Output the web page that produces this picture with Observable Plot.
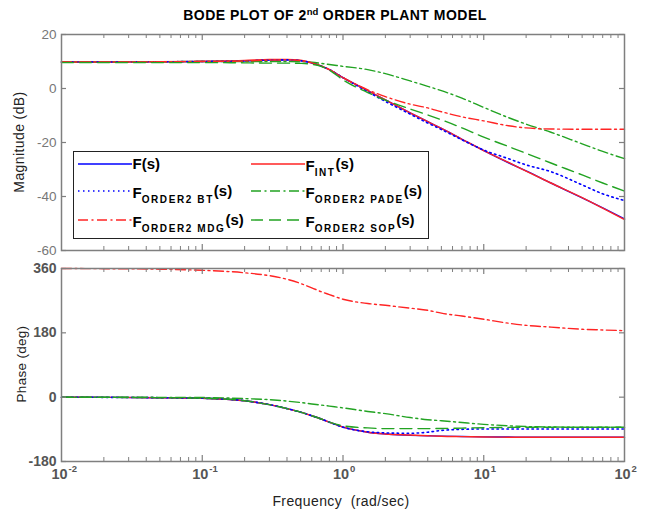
<!DOCTYPE html>
<html><head><meta charset="utf-8">
<script src="https://cdn.jsdelivr.net/npm/d3@7"></script>
<script src="https://cdn.jsdelivr.net/npm/@observablehq/plot@0.6"></script>
<style>
body{margin:0;background:#fff;font-family:"Liberation Sans",Arial,Helvetica,sans-serif;}
#fig{position:relative;width:647px;height:514px;overflow:hidden;background:#fff;}
#title{position:absolute;left:0;width:670px;top:7px;text-align:center;font-weight:bold;font-size:14px;letter-spacing:0.5px;color:#000;white-space:nowrap;}
#title sup{font-size:9.5px;vertical-align:5px;line-height:0;letter-spacing:0;}
#mag{position:absolute;left:0;top:24px;}
#ph{position:absolute;left:0;top:258px;}
.ylab{position:absolute;font-size:14px;letter-spacing:0.4px;color:#222;white-space:nowrap;transform:translate(-50%,-50%) rotate(-90deg);}
#xlab{position:absolute;left:341px;top:501px;transform:translate(-50%,-50%);font-size:14px;letter-spacing:0.4px;color:#222;white-space:nowrap;}
#legend{position:absolute;left:73px;top:151px;width:354px;height:86px;border:1.5px solid #222;background:#fff;}
.lg{position:absolute;}
.lt{position:absolute;font-weight:bold;font-size:15px;line-height:18px;color:#000;white-space:nowrap;}
.sub{font-size:10px;letter-spacing:1.6px;vertical-align:-5px;}
.up{vertical-align:2px;}
</style></head><body>
<div id="fig">
  <div id="title">BODE PLOT OF 2<sup>nd</sup> ORDER PLANT MODEL</div>
  <div id="mag"></div>
  <div id="ph"></div>
  <div class="ylab" style="left:19px;top:142px;">Magnitude (dB)</div>
  <div class="ylab" style="left:21px;top:364px;font-size:13.5px;letter-spacing:0.3px;">Phase (deg)</div>
  <div id="xlab">Frequency&nbsp; (rad/sec)</div>
  <div id="legend"></div>
</div>
<script>
// ---- data ----
const freq    = [0.01,0.02,0.05,0.1,0.2,0.3,0.4,0.5,0.6,0.7,0.8,1,1.5,2,3,4,5,7,10,15,20,30,50,70,100];
const magF    = [9.8,9.8,9.9,10,10.2,10.5,10.6,10.3,9.5,8.3,7,4,-0.8,-4.2,-9,-12.3,-14.8,-18.8,-23,-27.5,-30.5,-35,-40.5,-44.2,-48.3];
const magINT  = [9.8,9.8,9.9,10.1,10.4,10.8,10.8,10.5,9.6,8.4,7,4,-0.8,-4.2,-9,-12.3,-14.8,-18.8,-23,-27.4,-30.6,-35,-40.4,-44.3,-48.5];
const magBT   = [9.8,9.8,9.9,10,10.2,10.5,10.6,10.3,9.5,8.3,7,4,-1.2,-4.8,-9.5,-12.8,-15.2,-19,-22.8,-26,-28.3,-30.8,-35.7,-39,-41.5];
const magPADE = [9.8,9.8,9.9,10,10,10,10,9.9,9.7,9.3,8.9,8.2,7,5.5,2.8,0.8,-0.8,-3.6,-7,-10.8,-13.2,-16.2,-20.5,-23.3,-26];
const magMDG  = [9.8,9.8,9.9,10,10.2,10.5,10.6,10.3,9.5,8.3,7,4,-0.5,-3,-5.8,-7.2,-8.6,-10.5,-12,-13.8,-14.6,-15,-15.1,-15.1,-15.1];
const magSOP  = [9.6,9.6,9.6,9.6,9.5,9.4,9.4,9.3,9,8.2,6.8,3.2,-1.5,-4.3,-7.6,-9.8,-11.6,-14.6,-18,-21.5,-24,-27.6,-32,-35,-38];
const phF     = [0,-0.5,-1.5,-3,-10,-21,-32,-42,-52,-61,-70,-84,-98,-103,-107,-108,-109,-110,-111,-111.5,-112,-112,-112,-112,-112];
const phINT   = [0,-0.5,-1.5,-3,-10,-21,-32,-42,-52,-61,-70,-84,-98,-103,-106,-108,-109.5,-110.5,-111.5,-112,-112,-112,-112,-112,-112];
const phBT    = [0,-0.5,-1.5,-3,-10,-21,-32,-42,-52,-61,-70,-84,-97,-100,-101,-98,-93,-90,-89,-89,-89,-89,-89,-89,-89];
const phPADE  = [0,-0.2,-0.5,-1,-4,-7,-11,-15,-19,-22,-25,-30,-40,-46,-57,-63,-66,-71,-76,-80,-82,-83.5,-84,-84,-84];
const phMDG   = [360,359.5,358,355,348,340,330,318,306,295,287,274,262,257,249,243,235,227,218,207,201,196,190,188,186];
const phSOP   = [0,-0.5,-1.5,-3,-10,-21,-32,-42,-52,-61,-70,-80,-86,-88,-88,-88,-87.5,-86.5,-85.5,-84.5,-84,-84,-84,-84,-84];
const magTicks   = [20,0,-20,-40,-60];
const phaseTicks = [360,180,0,-180];
const decades    = [0.01,0.1,1,10,100];
const expLabels  = ["-2","-1","0","1","2"];
const legendSubs = ["", "INT", "ORDER2 BT", "ORDER2 PADE", "ORDER2 MDG", "ORDER2 SOP"];

// ---- styles ----
const BLUE="#0000ff", RED="#ff2424", GREEN="#22a322", AX="#7f7f7f";
const DOT="1.5,3.5", DASHDOT="10,3.5,2,3.5", DASH="12,6";
const series = [
  {mag:magF,   ph:phF,   color:BLUE,  dash:null,    w:1.4, sub:legendSubs[0]},
  {mag:magINT, ph:phINT, color:RED,   dash:null,    w:1.4, sub:legendSubs[1]},
  {mag:magBT,  ph:phBT,  color:BLUE,  dash:DOT,     w:1.6, sub:legendSubs[2]},
  {mag:magPADE,ph:phPADE,color:GREEN, dash:DASHDOT, w:1.4, sub:legendSubs[3]},
  {mag:magMDG, ph:phMDG, color:RED,   dash:DASHDOT, w:1.4, sub:legendSubs[4]},
  {mag:magSOP, ph:phSOP, color:GREEN, dash:DASH,    w:1.4, sub:legendSubs[5]}
];
const rows = vals => freq.map((f,i)=>({f, v: vals[i]}));

const W=647, ML=61, MR=23, PW=W-ML-MR;
const minor=[]; for (const d of [0.01,0.1,1,10]) for (let k=2;k<=9;k++) minor.push(d*k);
const majorInner=[0.1,1,10];

function edgeTicks(h, yTicks){
  return [
    Plot.tickX(minor,{x:d=>d,stroke:AX,strokeWidth:1,insetBottom:h-4}),
    Plot.tickX(minor,{x:d=>d,stroke:AX,strokeWidth:1,insetTop:h-4}),
    Plot.tickX(majorInner,{x:d=>d,stroke:AX,strokeWidth:1.2,insetBottom:h-6}),
    Plot.tickX(majorInner,{x:d=>d,stroke:AX,strokeWidth:1.2,insetTop:h-6}),
    Plot.tickY(yTicks,{y:d=>d,stroke:AX,strokeWidth:1.2,insetRight:PW-5}),
    Plot.tickY(yTicks,{y:d=>d,stroke:AX,strokeWidth:1.2,insetLeft:PW-5})
  ];
}
function lines(key){
  return series.map(s=>Plot.line(rows(s[key]),{x:"f",y:"v",stroke:s.color,strokeWidth:s.w,
    strokeDasharray:s.dash||undefined,curve:"monotone-x"}));
}
const style={fontFamily:"Liberation Sans, Arial, sans-serif",background:"transparent",overflow:"visible"};

const H1=216;
const magPlot = Plot.plot({
  width:W, height:10+H1+6, marginLeft:ML, marginRight:MR, marginTop:10, marginBottom:6,
  style,
  x:{type:"log",domain:[0.01,100],axis:null},
  y:{domain:[-60,20],axis:null},
  marks:[
    ...lines("mag"),
    ...edgeTicks(H1, magTicks),
    Plot.frame({stroke:AX,strokeWidth:1.5}),
    Plot.axisY({ticks:magTicks,tickSize:0,tickPadding:5,fontSize:13.5,fill:"#777",label:null,tickFormat:d=>String(d)})
  ]
});
document.getElementById("mag").appendChild(magPlot);

const H2=193;
const phPlot = Plot.plot({
  width:W, height:10+H2+38, marginLeft:ML, marginRight:MR, marginTop:10, marginBottom:38,
  style,
  x:{type:"log",domain:[0.01,100],axis:null},
  y:{domain:[-180,360],axis:null},
  marks:[
    ...lines("ph"),
    ...edgeTicks(H2, phaseTicks),
    Plot.frame({stroke:AX,strokeWidth:1.5}),
    Plot.axisY({ticks:phaseTicks,tickSize:0,tickPadding:5,fontSize:14,fontWeight:"bold",fill:"#555",label:null,tickFormat:d=>String(d)}),
    Plot.text(decades,{x:d=>d,frameAnchor:"bottom",text:()=>"10",dx:-2,dy:17,fontSize:14.5,fontWeight:"bold",fill:"#555"}),
    Plot.text(decades,{x:d=>d,frameAnchor:"bottom",text:(d,i)=>expLabels[i],dx:7,dy:10,textAnchor:"start",fontSize:9.5,fontWeight:"bold",fill:"#555"})
  ]
});
document.getElementById("ph").appendChild(phPlot);

// ---- legend ----
const lg=document.getElementById("legend");
const LX=73, LY=151;
const slots=[[78,164],[251,164],[78,191],[251,191],[78,220],[251,220]];
series.forEach((s,i)=>{
  const [x,y]=slots[i];
  const sv=document.createElementNS("http://www.w3.org/2000/svg","svg");
  sv.setAttribute("width",55); sv.setAttribute("height",8);
  sv.setAttribute("class","lg");
  sv.style.left=(x-LX-1.5)+"px"; sv.style.top=(y-LY-1.5-4)+"px";
  const ln=document.createElementNS("http://www.w3.org/2000/svg","line");
  ln.setAttribute("x1",0);ln.setAttribute("x2",54);ln.setAttribute("y1",4);ln.setAttribute("y2",4);
  ln.setAttribute("stroke",s.color);ln.setAttribute("stroke-width",s.w);
  if(s.dash) ln.setAttribute("stroke-dasharray",s.dash);
  sv.appendChild(ln); lg.appendChild(sv);
  const t=document.createElement("div");
  t.className="lt";
  t.style.left=(x+55-LX-1.5)+"px"; t.style.top=(y-LY-1.5-9)+"px";
  t.innerHTML = s.sub ? `F<span class="sub">${s.sub}</span><span class="up">(s)</span>` : "F(s)";
  lg.appendChild(t);
});
</script>
</body></html>
